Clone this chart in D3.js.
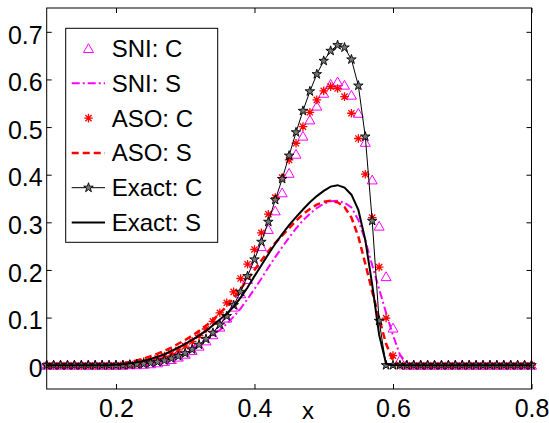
<!doctype html>
<html lang="en">

<head>
    <meta charset="UTF-8" />
    <script src="https://d3js.org/d3.v7.min.js"></script>
    <title>SNI / ASO / Exact</title>
    <style>
        body { margin: 0; background: #fff; }
        text { font-family: "Liberation Sans", Arial, sans-serif; }
    </style>
</head>

<body>
    <div id="chart"></div>
    <script>
        // grid points 0.10 ... 0.80
        const xs = [
            0.10, 0.11, 0.12, 0.13, 0.14, 0.15, 0.16, 0.17, 0.18, 0.19,
            0.20, 0.21, 0.22, 0.23, 0.24, 0.25, 0.26, 0.27, 0.28, 0.29,
            0.30, 0.31, 0.32, 0.33, 0.34, 0.35, 0.36, 0.37, 0.38, 0.39,
            0.40, 0.41, 0.42, 0.43, 0.44, 0.45, 0.46, 0.47, 0.48, 0.49,
            0.50, 0.51, 0.52, 0.53, 0.54, 0.55, 0.56, 0.57, 0.58, 0.59,
            0.60, 0.61, 0.62, 0.63, 0.64, 0.65, 0.66, 0.67, 0.68, 0.69,
            0.70, 0.71, 0.72, 0.73, 0.74, 0.75, 0.76, 0.77, 0.78, 0.79,
            0.80
        ]

        const sniC = [
            0, 0, 0, 0, 0, 0, 0, 0, 0, 0,
            0, 0, 0.001, 0.001, 0.002, 0.003, 0.005, 0.008, 0.012, 0.017,
            0.023, 0.031, 0.040, 0.051, 0.064, 0.080, 0.099, 0.122, 0.150, 0.180,
            0.213, 0.249, 0.285, 0.324, 0.362, 0.403, 0.443, 0.481, 0.515, 0.544,
            0.571, 0.590, 0.595, 0.588, 0.567, 0.529, 0.468, 0.389, 0.292, 0.186,
            0.078, 0.011, 0, 0, 0, 0, 0, 0, 0, 0,
            0, 0, 0, 0, 0, 0, 0, 0, 0, 0,
            0
        ]

        const sniS = [
            0, 0, 0, 0, 0, 0, 0, 0, 0, 0,
            0, 0.001, 0.002, 0.004, 0.006, 0.009, 0.012, 0.016, 0.020, 0.025,
            0.031, 0.038, 0.046, 0.054, 0.063, 0.074, 0.087, 0.102, 0.119, 0.139,
            0.160, 0.182, 0.205, 0.227, 0.248, 0.268, 0.287, 0.304, 0.318, 0.330,
            0.339, 0.344, 0.345, 0.341, 0.331, 0.305, 0.262, 0.210, 0.160, 0.110,
            0.063, 0.022, 0.004, 0, 0, 0, 0, 0, 0, 0,
            0, 0, 0, 0, 0, 0, 0, 0, 0, 0,
            0
        ]

        const asoC = [
            0, 0, 0, 0, 0, 0, 0, 0, 0, 0,
            0, 0.001, 0.002, 0.004, 0.007, 0.010, 0.014, 0.019, 0.025, 0.032,
            0.040, 0.050, 0.062, 0.076, 0.092, 0.110, 0.131, 0.154, 0.182, 0.212,
            0.243, 0.278, 0.317, 0.352, 0.394, 0.431, 0.466, 0.501, 0.531, 0.557,
            0.576, 0.585, 0.581, 0.564, 0.529, 0.476, 0.401, 0.310, 0.206, 0.099,
            0.020, 0, 0, 0, 0, 0, 0, 0, 0, 0,
            0, 0, 0, 0, 0, 0, 0, 0, 0, 0,
            0
        ]

        const asoS = [
            0, 0, 0, 0, 0, 0, 0, 0, 0, 0,
            0.002, 0.004, 0.007, 0.010, 0.014, 0.019, 0.024, 0.030, 0.037, 0.045,
            0.053, 0.062, 0.072, 0.083, 0.095, 0.109, 0.124, 0.141, 0.160, 0.180,
            0.200, 0.220, 0.239, 0.257, 0.272, 0.288, 0.303, 0.317, 0.328, 0.337,
            0.343, 0.345, 0.342, 0.332, 0.310, 0.270, 0.213, 0.155, 0.098, 0.045,
            0.010, 0, 0, 0, 0, 0, 0, 0, 0, 0,
            0, 0, 0, 0, 0, 0, 0, 0, 0, 0,
            0
        ]

        const exactC = [
            0, 0, 0, 0, 0, 0, 0, 0, 0, 0,
            0, 0, 0.001, 0.002, 0.003, 0.005, 0.007, 0.010, 0.014, 0.019,
            0.025, 0.033, 0.043, 0.055, 0.068, 0.085, 0.103, 0.126, 0.154, 0.187,
            0.222, 0.259, 0.301, 0.347, 0.391, 0.440, 0.489, 0.534, 0.575, 0.611,
            0.639, 0.660, 0.672, 0.667, 0.642, 0.587, 0.480, 0.303, 0.093, 0,
            0, 0, 0, 0, 0, 0, 0, 0, 0, 0,
            0, 0, 0, 0, 0, 0, 0, 0, 0, 0,
            0
        ]

        const exactS = [
            0, 0, 0, 0, 0, 0, 0, 0, 0, 0,
            0.001, 0.002, 0.004, 0.006, 0.009, 0.013, 0.018, 0.023, 0.030, 0.037,
            0.045, 0.053, 0.062, 0.072, 0.084, 0.096, 0.108, 0.123, 0.142, 0.163,
            0.187, 0.210, 0.233, 0.255, 0.275, 0.294, 0.311, 0.327, 0.342, 0.355,
            0.366, 0.375, 0.378, 0.373, 0.358, 0.326, 0.263, 0.169, 0.064, 0.003,
            0, 0, 0, 0, 0, 0, 0, 0, 0, 0,
            0, 0, 0, 0, 0, 0, 0, 0, 0, 0,
            0
        ]

        const xTicks = [0.2, 0.4, 0.6, 0.8]
        const yTicks = [0, 0.1, 0.2, 0.3, 0.4, 0.5, 0.6, 0.7]
        const legendLabels = ["SNI: C", "SNI: S", "ASO: C", "ASO: S", "Exact: C", "Exact: S"]

        // layout
        const W = 549, H = 423
        const box = { left: 46.7, right: 531.5, top: 8, bottom: 389 }

        const x = d3.scaleLinear().domain([0.1, 0.8]).range([box.left, box.right])
        const y = d3.scaleLinear().domain([-0.05, 0.75]).range([box.bottom, box.top])

        const svg = d3.select("#chart")
            .append("svg")
            .attr("width", W)
            .attr("height", H)

        svg.append("rect")
            .attr("width", W).attr("height", H).attr("fill", "#fff")

        // marker shapes
        const triPath = "M0,-4.8L5,4L-5,4Z"
        const astPath = "M-4.3,0H4.3M0,-4.3V4.3M-3.1,-3.1L3.1,3.1M-3.1,3.1L3.1,-3.1"
        const starPath = d3.symbol(d3.symbolStar).size(28)()

        const pts = ys => xs.map((v, i) => [v, ys[i]])
        const line = d3.line().x(d => x(d[0])).y(d => y(d[1]))

        const plot = svg.append("g")

        function drawMarkers(ys, path, stroke, fill, width) {
            plot.append("g")
                .selectAll("path")
                .data(pts(ys))
                .enter()
                .append("path")
                .attr("transform", d => `translate(${x(d[0])},${y(d[1])})`)
                .attr("d", path)
                .attr("fill", fill)
                .attr("stroke", stroke)
                .attr("stroke-width", width)
        }

        function drawLine(ys, stroke, width, dash) {
            plot.append("path")
                .datum(pts(ys))
                .attr("d", line)
                .attr("fill", "none")
                .attr("stroke", stroke)
                .attr("stroke-width", width)
                .attr("stroke-dasharray", dash)
        }

        // same order as the legend
        drawMarkers(sniC, triPath, "#ff00ff", "none", 1)
        drawLine(sniS, "#ff00ff", 2, "8,3,2,3")
        drawMarkers(asoC, astPath, "#ff0000", "none", 1.3)
        drawLine(asoS, "#ff0000", 2.5, "7,4")
        drawLine(exactC, "#000", 1, null)
        drawMarkers(exactC, starPath, "#000", "#777", 0.9)
        drawLine(exactS, "#000", 2, null)

        // axes box with inward ticks
        const fmtY = d => d === 0 ? "0" : d3.format(".1f")(d)

        svg.append("g")
            .attr("transform", `translate(0,${box.bottom})`)
            .call(d3.axisBottom(x).tickValues(xTicks).tickSizeInner(-5).tickSizeOuter(0)
                .tickPadding(10).tickFormat(d3.format(".1f")))
        svg.append("g")
            .attr("transform", `translate(0,${box.top})`)
            .call(d3.axisTop(x).tickValues(xTicks).tickSizeInner(-5).tickSizeOuter(0).tickFormat(""))
        const yAxis = svg.append("g")
            .attr("transform", `translate(${box.left},0)`)
            .call(d3.axisLeft(y).tickValues(yTicks).tickSizeInner(-5).tickSizeOuter(0)
                .tickPadding(4).tickFormat(fmtY))
        svg.append("g")
            .attr("transform", `translate(${box.right},0)`)
            .call(d3.axisRight(y).tickValues(yTicks).tickSizeInner(-5).tickSizeOuter(0).tickFormat(""))

        svg.selectAll(".domain").remove()
        svg.selectAll(".tick line").attr("stroke", "#000")
        svg.selectAll(".tick text")
            .attr("fill", "#000")
            .style("font-size", "25px")
            .style("font-family", '"Liberation Sans", Arial, sans-serif')
        yAxis.selectAll(".tick text").attr("dy", "0.45em")

        svg.append("rect")
            .attr("x", box.left).attr("y", box.top)
            .attr("width", box.right - box.left).attr("height", box.bottom - box.top)
            .attr("fill", "none").attr("stroke", "#000").attr("stroke-width", 1)

        svg.append("text")
            .attr("x", 308).attr("y", 419)
            .attr("text-anchor", "middle")
            .style("font-size", "24px")
            .text("x")

        // legend
        const lg = svg.append("g")
        lg.append("rect")
            .attr("x", 65.7).attr("y", 28.3).attr("width", 152).attr("height", 214)
            .attr("fill", "#fff").attr("stroke", "#000").attr("stroke-width", 1)

        const rowY = i => 48.5 + i * 34.8
        const lx0 = 71.7, lx1 = 105, lxm = 88.5

        const sample = (i, stroke, width, dash) => lg.append("line")
            .attr("x1", lx0).attr("x2", lx1).attr("y1", rowY(i)).attr("y2", rowY(i))
            .attr("stroke", stroke).attr("stroke-width", width).attr("stroke-dasharray", dash)
        const mark = (i, path, stroke, fill, width) => lg.append("path")
            .attr("transform", `translate(${lxm},${rowY(i)})`)
            .attr("d", path).attr("fill", fill).attr("stroke", stroke).attr("stroke-width", width)

        mark(0, triPath, "#ff00ff", "none", 1)
        sample(1, "#ff00ff", 2, "8,3,2,3")
        mark(2, astPath, "#ff0000", "none", 1.3)
        sample(3, "#ff0000", 2.5, "7,4")
        sample(4, "#000", 1, null)
        mark(4, starPath, "#000", "#777", 0.9)
        sample(5, "#000", 2, null)

        lg.selectAll("text.lab")
            .data(legendLabels)
            .enter()
            .append("text")
            .attr("class", "lab")
            .attr("x", 111.7)
            .attr("y", (d, i) => rowY(i) + 8.5)
            .style("font-size", "24px")
            .text(d => d)
    </script>
</body>

</html>
